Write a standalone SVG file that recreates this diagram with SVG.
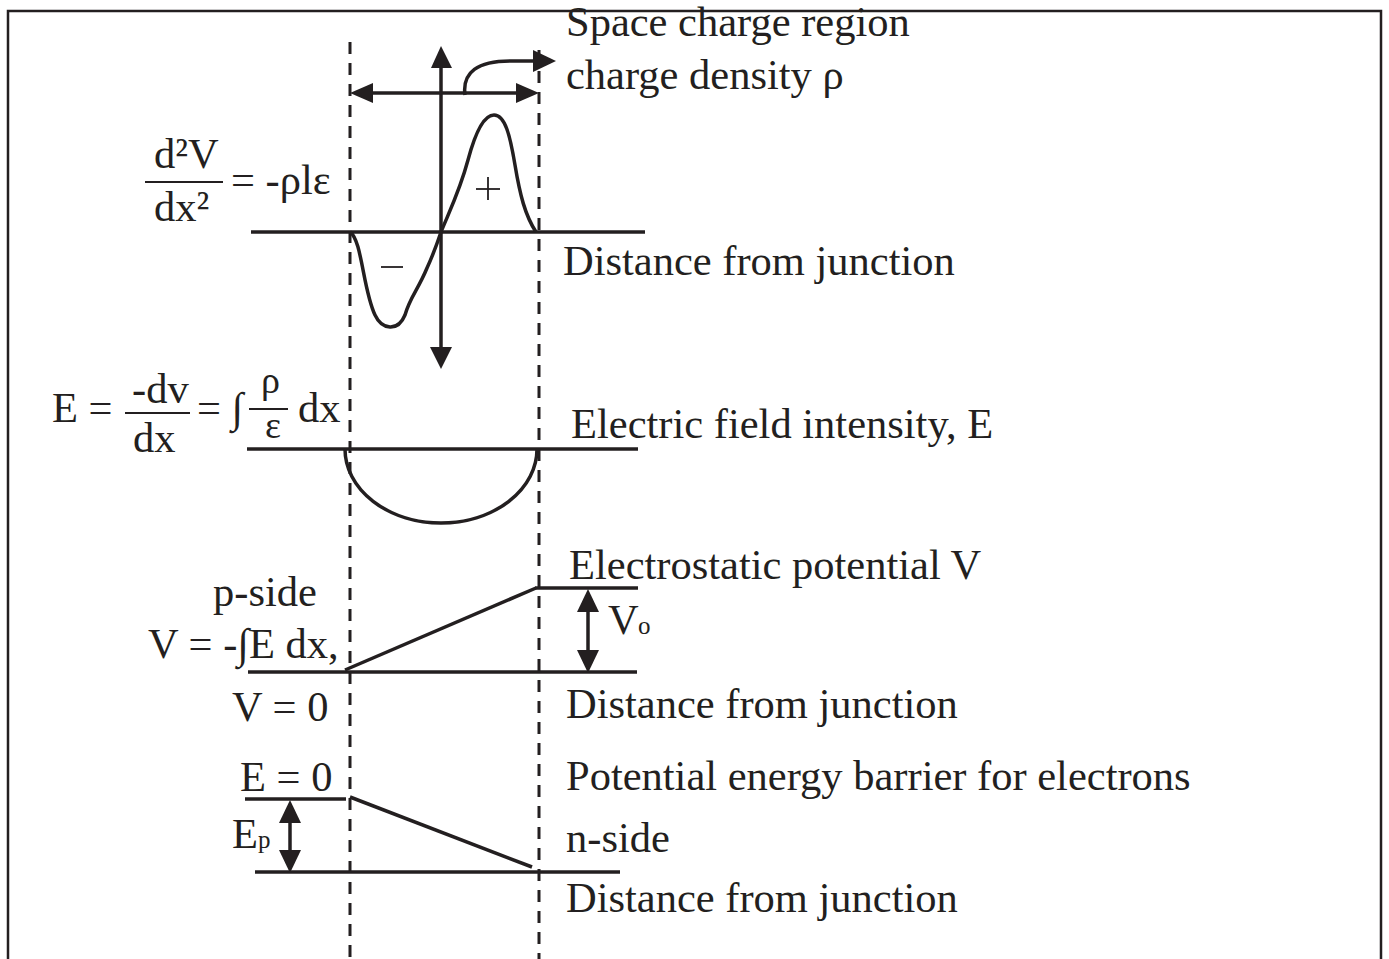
<svg xmlns="http://www.w3.org/2000/svg" width="1389" height="959" viewBox="0 0 1389 959">
<style>
text{font-family:"Liberation Serif","Times New Roman",serif;font-size:42.5px;fill:#231f20}
.sm{font-size:25px}
.fr{font-size:38px}
.ln{stroke:#231f20;stroke-width:3.5;fill:none}
.dash{stroke:#231f20;stroke-width:3;stroke-dasharray:12 9;fill:none}
.hd{fill:#231f20}
</style>
<rect width="1389" height="959" fill="#fff"/>
<g id="border"><path d="M8,959 V11 H1381 V959" stroke="#231f20" stroke-width="2.5" fill="none"/></g>
<g id="guides">
<line class="dash" x1="350" y1="42" x2="350" y2="959"/>
<line class="dash" x1="539" y1="50" x2="539" y2="959"/>
</g>
<g id="connectors">
<line class="ln" x1="441" y1="64" x2="441" y2="350"/>
<polygon class="hd" points="441,46 431,68 452,68"/>
<polygon class="hd" points="441,369 430,347 452,347"/>
<line class="ln" x1="370" y1="93" x2="518" y2="93"/>
<polygon class="hd" points="350,93 373,83 373,103"/>
<polygon class="hd" points="539,93 516,83 516,103"/>
<path class="ln" d="M465,95 C462,72 478,61 510,61 L536,61"/>
<polygon class="hd" points="556,61 533,50 533,72"/>
<line class="ln" x1="588" y1="608" x2="588" y2="655"/>
<polygon class="hd" points="588,589 577,612 599,612"/>
<polygon class="hd" points="588,673 577,650 599,650"/>
<line class="ln" x1="290" y1="818" x2="290" y2="855"/>
<polygon class="hd" points="290,800 279,823 301,823"/>
<polygon class="hd" points="290,873 279,850 301,850"/>
</g>
<g id="charge-density">
<line class="ln" x1="251" y1="232" x2="645" y2="232"/>
<path class="ln" d="M350,232 C362,240 363,290 375,315 C382,330 398,332 405,315 C410,297 418,290 427,268 C433,255 437,244 441,232 C450,210 460,190 468,160 C476,130 485,115 494,115 C505,115 510,135 515,165 C520,195 525,215 536,232"/>
<line x1="488" y1="177" x2="488" y2="200" stroke="#231f20" stroke-width="1.8"/>
<line x1="476" y1="189" x2="500" y2="189" stroke="#231f20" stroke-width="1.8"/>
<line x1="381" y1="267" x2="403" y2="267" stroke="#231f20" stroke-width="1.8"/>
<text x="566" y="36">Space charge region</text>
<text x="566" y="89">charge density ρ</text>
<text x="563" y="275">Distance from junction</text>
<text x="154" y="168">d²V</text>
<line x1="145" y1="182" x2="223" y2="182" stroke="#231f20" stroke-width="2"/>
<text x="154" y="221">dx²</text>
<text x="231" y="194">= -ρlε</text>
</g>
<g id="electric-field">
<line class="ln" x1="247" y1="449" x2="638" y2="449"/>
<path class="ln" d="M345,449 A96,74 0 0 0 537,449"/>
<text x="52" y="422">E =</text>
<text x="132" y="403">-dv</text>
<line x1="125" y1="413" x2="190" y2="413" stroke="#231f20" stroke-width="2"/>
<text x="133" y="452">dx</text>
<text x="197" y="422">= ∫</text>
<text class="fr" x="261" y="393">ρ</text>
<line x1="249" y1="409" x2="288" y2="409" stroke="#231f20" stroke-width="2"/>
<text class="fr" x="265" y="438">ε</text>
<text x="298" y="422">dx</text>
<text x="571" y="438">Electric field intensity, E</text>
</g>
<g id="potential">
<line class="ln" x1="535" y1="588" x2="638" y2="588"/>
<line class="ln" x1="248" y1="672" x2="637" y2="672"/>
<line class="ln" x1="345" y1="670" x2="536" y2="588"/>
<text x="569" y="579">Electrostatic potential V</text>
<text x="608" y="634">V</text>
<text class="sm" x="638" y="634">o</text>
<text x="213" y="606">p-side</text>
<text x="148" y="658">V = -∫E dx,</text>
<text x="232" y="721">V = 0</text>
<text x="566" y="718">Distance from junction</text>
</g>
<g id="energy-barrier">
<line class="ln" x1="245" y1="799" x2="346" y2="799"/>
<line class="ln" x1="350" y1="797" x2="532" y2="867"/>
<line class="ln" x1="255" y1="872" x2="620" y2="872"/>
<text x="240" y="791">E = 0</text>
<text x="232" y="848">E</text>
<text class="sm" x="258" y="848">p</text>
<text x="566" y="790">Potential energy barrier for electrons</text>
<text x="566" y="852">n-side</text>
<text x="566" y="912">Distance from junction</text>
</g>
</svg>
